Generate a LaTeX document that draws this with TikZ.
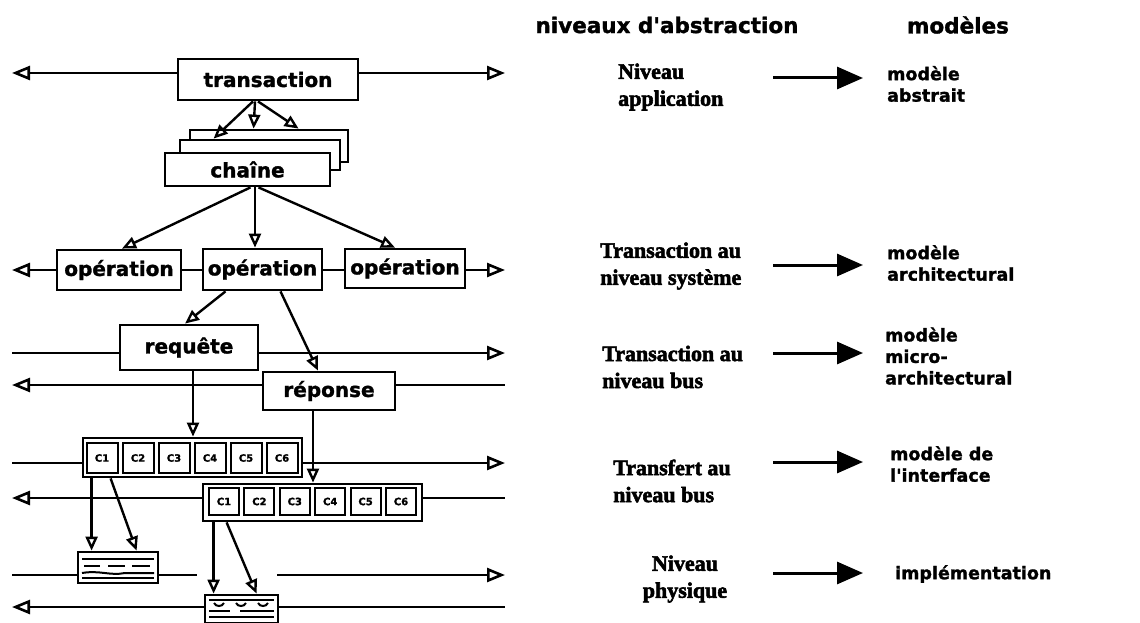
\documentclass[tikz,border=0pt]{standalone}
\usepackage{fontspec}
\setmainfont{Liberation Serif}[BoldFeatures={FakeBold=2.5}]
\newfontfamily\dvs{DejaVu Sans}[BoldFeatures={FakeBold=1.5}]
\usetikzlibrary{arrows.meta,calc}
\begin{document}
\begin{tikzpicture}[x=1pt,y=-1pt,
  box/.style={draw,line width=2.8pt,fill=white,inner sep=0pt,
    font=\dvs\bfseries\fontsize{20}{24}\selectfont},
  cell/.style={draw,line width=2pt,fill=white,inner sep=0pt,
    font=\dvs\bfseries\fontsize{10}{12}\selectfont},
  bus/.style={line width=2.6pt},
  lh/.style={{Triangle[open,length=18pt,width=14pt]}-},
  rh/.style={-{Triangle[open,length=18pt,width=14pt]}},
  dh/.style={line width=2.4pt,-{Triangle[open,length=14pt,width=12pt]}},
  bigarrow/.style={line width=3pt,-{Triangle[length=26pt,width=22pt]}},
  hdr/.style={inner sep=0pt,font=\dvs\bfseries\fontsize{21.5}{26}\selectfont},
  lvl/.style={inner sep=0pt,anchor=west,align=left,
    font=\bfseries\fontsize{22}{27}\selectfont},
  mdl/.style={inner sep=0pt,anchor=west,align=left,
    font=\dvs\bfseries\fontsize{17.5}{21.5}\selectfont},
  trace/.style={line width=2pt}
]
\useasboundingbox (0,0) rectangle (1140,623);

% ---------- left column ----------
% row 1 : transaction
\coordinate (L1) at (12,73); \coordinate (R1) at (505,73);
\node[box,minimum width=180pt,minimum height=41pt] (trans) at (268,79.5) {transaction};
\draw[bus,lh] (L1) -- (trans.west |- L1);
\draw[bus,rh] (trans.east |- R1) -- (R1);

% chaine stack
\node[box,minimum width=158pt,minimum height=32pt] (ch3) at (269,146) {};
\node[box,minimum width=160pt,minimum height=30pt] (ch2) at (260,155) {};
\node[box,minimum width=165pt,minimum height=33pt] (ch1) at (247.5,169.5) {chaîne};

\draw[dh] ($(trans.south)+(-15,0)$) -- ($(ch2.north west)+(35,0)$);
\draw[dh] ($(trans.south)+(-13,0)$) -- ($(ch3.north west)+(65,0)$);
\draw[dh] ($(trans.south)+(-10,0)$) -- ($(ch3.north west)+(110,0)$);

% operations row
\coordinate (L3) at (12,270); \coordinate (R3) at (505,270);
\node[box,minimum width=124pt,minimum height=40pt] (op1) at (119,270) {opération};
\node[box,minimum width=119pt,minimum height=41pt] (op2) at (262.5,269.5) {opération};
\node[box,minimum width=120pt,minimum height=39pt] (op3) at (405,268.5) {opération};
\draw[bus,lh] (L3) -- (op1.west |- L3);
\draw[bus] (op1.east |- L3) -- (op2.west |- L3);
\draw[bus] (op2.east |- L3) -- (op3.west |- L3);
\draw[bus,rh] (op3.east |- L3) -- (R3);

\draw[dh] ($(ch1.south)+(3,0)$) -- ($(op1.north)+(3,0)$);
\draw[dh] ($(ch1.south)+(7.5,0)$) -- ($(op2.north)+(-7.5,0)$);
\draw[dh] ($(ch1.south)+(11,0)$) -- ($(op3.north)+(-10,0)$);

% requete / reponse
\coordinate (L4) at (12,353); \coordinate (R4) at (505,353);
\coordinate (L5) at (12,385); \coordinate (R5) at (505,385);
\node[box,minimum width=138pt,minimum height=45pt] (req) at (189,347.5) {requête};
\node[box,minimum width=132pt,minimum height=38pt] (rep) at (329,391) {réponse};
\draw[bus] (L4) -- (req.west |- L4);
\draw[bus,rh] (req.east |- R4) -- (R4);
\draw[bus,lh] (L5) -- (rep.west |- L5);
\draw[bus] (rep.east |- R5) -- (R5);

\draw[dh] ($(op2.south)+(-37,0)$) -- ($(req.north)+(-4,0)$);
\draw[dh] ($(op2.south)+(18,0)$) -- ($(rep.north)+(-11,0)$);

% cell rows
\coordinate (L6) at (12,463); \coordinate (R6) at (505,463);
\coordinate (L7) at (12,498); \coordinate (R7) at (505,498);
\node[box,minimum width=219pt,minimum height=39pt] (cellsA) at (192.5,457.5) {};
\node[box,minimum width=219pt,minimum height=37pt] (cellsB) at (312.5,502.5) {};
\foreach \i in {1,...,6}{
  \node[cell,minimum width=31pt,minimum height=30pt] (a\i) at ({102+36*(\i-1)},458) {C\i};
  \node[cell,minimum width=30pt,minimum height=27pt] (b\i) at ({224+35.4*(\i-1)},501.5) {C\i};
}
\draw[bus] (L6) -- (cellsA.west |- L6);
\draw[bus,rh] (cellsA.east |- R6) -- (R6);
\draw[bus,lh] (L7) -- (cellsB.west |- L7);
\draw[bus] (cellsB.east |- R7) -- (R7);

\coordinate (rq) at ($(req.south)+(4,0)$);
\draw[dh] (rq) -- (rq |- cellsA.north);
\coordinate (rp) at ($(rep.south)+(-16,0)$);
\draw[dh] (rp) -- (rp |- cellsB.north);

% chips
\coordinate (L8) at (12,575); \coordinate (M8a) at (197,575);
\coordinate (M8b) at (277,575); \coordinate (R8) at (505,575);
\coordinate (L9) at (12,607); \coordinate (R9) at (505,607);
\node[box,minimum width=80pt,minimum height=31pt] (chip1) at (118,567.5) {};
\node[box,minimum width=73pt,minimum height=28pt] (chip2) at (241.5,609) {};
% chip traces
\draw[trace] (82,559) -- (154,559);
\draw[trace] (84,566) -- (100,566) (108,566) -- (125,566) (132,566) -- (150,566);
\draw[trace] (82,573) .. controls (100,570) and (110,576) .. (125,573) -- (154,573);
\draw[trace] (82,578) -- (154,578);
\draw[trace] (209,600) -- (274,600);
\draw[trace] (214,603) .. controls (216,607) and (222,607) .. (224,603)
  (236,603) .. controls (238,607) and (244,607) .. (246,603)
  (258,603) .. controls (260,607) and (266,607) .. (268,603);
\draw[trace] (209,611) -- (230,611) (240,611) -- (274,611);
\draw[trace] (209,617) -- (274,617);

\draw[bus] (L8) -- (chip1.west |- L8);
\draw[bus] (chip1.east |- L8) -- (M8a);
\draw[bus,rh] (M8b) -- (R8);
\draw[bus,lh] (L9) -- (chip2.west |- L9);
\draw[bus] (chip2.east |- R9) -- (R9);

\draw[dh] ($(cellsA.south west)+(10,0)$) -- ($(chip1.north west)+(15,0)$);
\draw[dh] ($(cellsA.south west)+(29,0)$) -- ($(chip1.north west)+(60,0)$);
\draw[dh] ($(cellsB.south west)+(12,0)$) -- ($(chip2.north west)+(10,0)$);
\draw[dh] ($(cellsB.south west)+(25,0)$) -- ($(chip2.north west)+(53,0)$);

% ---------- right column ----------
\node[hdr] (h1) at (667,25) {niveaux d\textquotesingle abstraction};
\node[hdr] (h2) at (958,25) {modèles};

\node[lvl] (lv1) at (618,87) {Niveau\\application};
\node[lvl] (lv2) at (600,266) {Transaction au\\niveau système};
\node[lvl] (lv3) at (602,367) {Transaction au\\niveau bus};
\node[lvl] (lv4) at (613,481) {Transfert au\\niveau bus};
\node[lvl,anchor=center,align=center] (lv5) at (685,579) {Niveau\\physique};

\node[mdl] (m1) at (887,84) {modèle\\abstrait};
\node[mdl] (m2) at (887,263) {modèle\\architectural};
\node[mdl] (m3) at (885,356) {modèle\\micro-\\architectural};
\node[mdl] (m4) at (890,464) {modèle de\\l\textquotesingle interface};
\node[mdl] (m5) at (895,574) {implémentation};

\foreach \k/\y in {1/78,2/265,3/353,4/462,5/573}{
  \coordinate (as\k) at (773,\y); \coordinate (ae\k) at (863,\y);
  \draw[bigarrow] (as\k) -- (ae\k);
}
\end{tikzpicture}
\end{document}
